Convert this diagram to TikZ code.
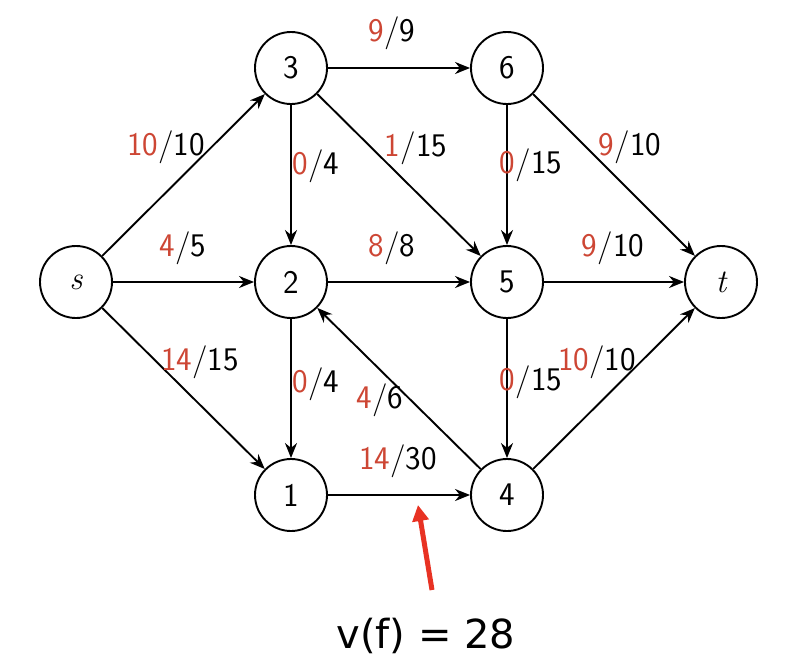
\documentclass[tikz,border=0pt]{standalone}
\usepackage{fontspec}
\newfontfamily\bigfont{DejaVu Sans}
\usetikzlibrary{arrows.meta}
\definecolor{flowred}{RGB}{205,70,52}
\definecolor{arrowred}{RGB}{232,50,35}
\newcommand{\fl}[2]{\textcolor{flowred}{#1}/#2}
\begin{document}
\begin{tikzpicture}[x=1pt,y=-1pt,
  vert/.style={draw,circle,line width=1.9pt,minimum size=72pt,inner sep=0pt,font=\sffamily\fontsize{33}{38}\selectfont},
  edge/.style={line width=1.9pt,-{Stealth[length=15pt,width=12pt]}},
  lab/.style={font=\sffamily\fontsize{33}{38}\selectfont,inner sep=0pt}]
\useasboundingbox (0,0) rectangle (796,672);
\node[vert] (s) at (76,282) {\rmfamily\itshape s};
\node[vert] (n3) at (291,68) {3};
\node[vert] (n2) at (291,282) {2};
\node[vert] (n1) at (291,495) {1};
\node[vert] (n6) at (507,68) {6};
\node[vert] (n5) at (507,282) {5};
\node[vert] (n4) at (507,495) {4};
\node[vert] (t) at (721,282) {\rmfamily\itshape t};
\draw[edge] (s) -- (n3);
\draw[edge] (s) -- (n2);
\draw[edge] (s) -- (n1);
\draw[edge] (n3) -- (n6);
\draw[edge] (n3) -- (n2);
\draw[edge] (n3) -- (n5);
\draw[edge] (n2) -- (n5);
\draw[edge] (n2) -- (n1);
\draw[edge] (n6) -- (n5);
\draw[edge] (n6) -- (t);
\draw[edge] (n5) -- (t);
\draw[edge] (n5) -- (n4);
\draw[edge] (n4) -- (n2);
\draw[edge] (n4) -- (t);
\draw[edge] (n1) -- (n4);
\node[lab] (l1) at (166,147) {\fl{10}{10}};
\node[lab] (l2) at (183,248) {\fl{4}{5}};
\node[lab] (l3) at (392,33) {\fl{9}{9}};
\node[lab] (l4) at (316,166) {\fl{0}{4}};
\node[lab] (l5) at (416,148) {\fl{1}{15}};
\node[lab] (l6) at (392,248) {\fl{8}{8}};
\node[lab] (l7) at (531,165) {\fl{0}{15}};
\node[lab] (l8) at (630,147) {\fl{9}{10}};
\node[lab] (l9) at (613,248) {\fl{9}{10}};
\node[lab] (l10) at (200,362) {\fl{14}{15}};
\node[lab] (l11) at (316,384) {\fl{0}{4}};
\node[lab] (l12) at (380,400) {\fl{4}{6}};
\node[lab] (l13) at (531,382) {\fl{0}{15}};
\node[lab] (l14) at (597,362) {\fl{10}{10}};
\node[lab] (l15) at (398,461) {\fl{14}{30}};
\coordinate (tail) at (432,590);
\coordinate (tip) at (418,505);
\draw[arrowred,line width=5pt,-{Triangle[length=16pt,width=16pt]}] (tail) -- (tip);
\node[font=\bigfont\fontsize{40}{46}\selectfont,inner sep=0pt] (vf) at (426,636) {v(f) = 28};
\end{tikzpicture}
\end{document}
